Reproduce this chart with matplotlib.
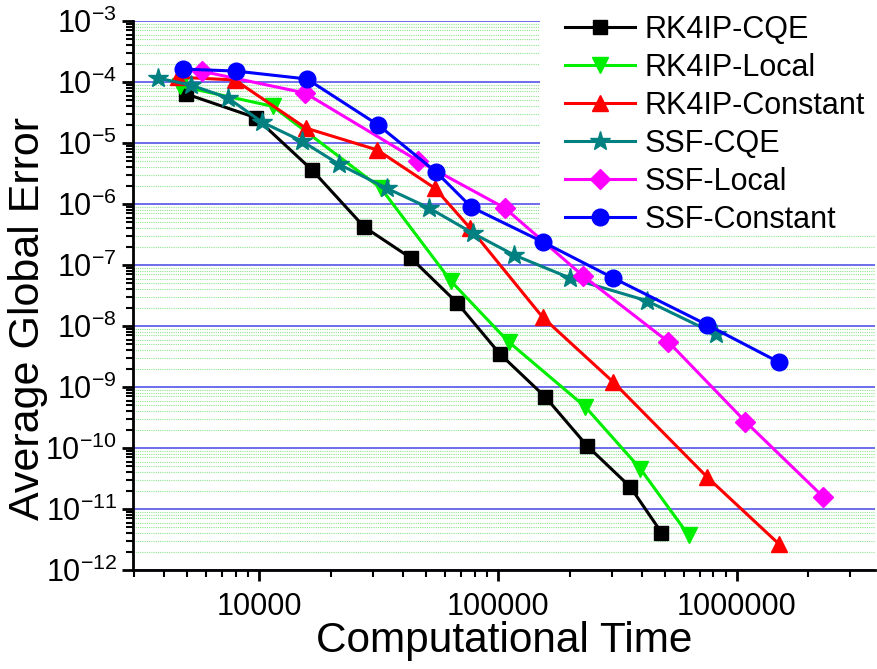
import matplotlib
matplotlib.use("Agg")
import matplotlib.pyplot as plt
from matplotlib.patches import Rectangle
from matplotlib.ticker import LogLocator, FixedLocator, NullFormatter, FixedFormatter

plt.rcParams['font.family'] = ['Liberation Sans', 'DejaVu Sans']
plt.rcParams['mathtext.fontset'] = 'custom'
plt.rcParams['mathtext.rm'] = 'Liberation Sans'
plt.rcParams['mathtext.default'] = 'regular'

# data
labels = ["RK4IP-CQE", "RK4IP-Local", "RK4IP-Constant", "SSF-CQE", "SSF-Local", "SSF-Constant"]

rk4ip_cqe_t = [4940, 9700, 16700, 27600, 43300, 67600, 102000, 158000, 237000, 359000, 485000]
rk4ip_cqe_err = [6.4e-5, 2.6e-5, 3.6e-6, 4.2e-7, 1.3e-7, 2.4e-8, 3.5e-9, 6.9e-10, 1.08e-10, 2.3e-11, 4.1e-12]

rk4ip_local_t = [4660, 11400, 32500, 63800, 111000, 233000, 395000, 630000]
rk4ip_local_err = [8.6e-5, 4.0e-5, 1.8e-6, 5.4e-8, 5.5e-9, 4.7e-10, 4.6e-11, 3.7e-12]

rk4ip_const_t = [4570, 7930, 15700, 31300, 54700, 76700, 154000, 305000, 755000, 1500000]
rk4ip_const_err = [1.2e-4, 1.08e-4, 1.76e-5, 7.7e-6, 1.8e-6, 4.0e-7, 1.4e-8, 1.2e-9, 3.3e-11, 2.7e-12]

ssf_cqe_t = [3780, 5190, 7410, 10300, 15100, 21600, 34400, 51600, 78900, 117000, 201000, 420000, 817000]
ssf_cqe_err = [1.16e-4, 8.9e-5, 5.5e-5, 2.2e-5, 1.08e-5, 4.5e-6, 1.8e-6, 8.6e-7, 3.3e-7, 1.46e-7, 6.1e-8, 2.6e-8, 7.4e-9]

ssf_local_t = [5770, 15600, 46400, 107000, 228000, 518000, 1090000, 2300000]
ssf_local_err = [1.5e-4, 6.6e-5, 5.1e-6, 8.6e-7, 6.6e-8, 5.5e-9, 2.7e-10, 1.6e-11]

ssf_const_t = [4800, 8010, 15900, 31600, 55200, 77500, 154000, 305000, 755000, 1500000]
ssf_const_err = [1.63e-4, 1.51e-4, 1.12e-4, 1.97e-5, 3.35e-6, 8.9e-7, 2.4e-7, 6.1e-8, 1.04e-8, 2.57e-9]

xticks = [10000, 100000, 1000000]
xticklabels = ["10000", "100000", "1000000"]

series = [
    (rk4ip_cqe_t, rk4ip_cqe_err, "black", "s", 10),
    (rk4ip_local_t, rk4ip_local_err, "#00ee00", "v", 12),
    (rk4ip_const_t, rk4ip_const_err, "red", "^", 12),
    (ssf_cqe_t, ssf_cqe_err, "#008080", "*", 15),
    (ssf_local_t, ssf_local_err, "#ff00ff", "D", 10),
    (ssf_const_t, ssf_const_err, "blue", "o", 12),
]

fig = plt.figure(figsize=(8.77, 6.69), dpi=100)
ax = fig.add_axes([133 / 877, 99 / 669, 742 / 877, 549 / 669])

for (t, e, c, m, ms), lab in zip(series, labels):
    ax.plot(t, e, color=c, marker=m, markersize=ms, linewidth=2.2, label=lab, zorder=3)

ax.set_xscale("log")
ax.set_yscale("log")
ax.set_xlim(2970, 3.8e6)
ax.set_ylim(1e-12, 1e-3)

ax.xaxis.set_major_locator(FixedLocator(xticks))
ax.xaxis.set_major_formatter(FixedFormatter(xticklabels))
ax.xaxis.set_minor_locator(LogLocator(base=10, subs=range(2, 10), numticks=20))
ax.xaxis.set_minor_formatter(NullFormatter())
ax.yaxis.set_major_locator(LogLocator(base=10, numticks=20))
ax.yaxis.set_minor_locator(LogLocator(base=10, subs=range(2, 10), numticks=20))
ax.yaxis.set_minor_formatter(NullFormatter())

ax.spines["top"].set_visible(False)
ax.spines["right"].set_visible(False)
ax.spines["left"].set_linewidth(2)
ax.spines["bottom"].set_linewidth(2)
ax.tick_params(which="major", direction="out", length=8, width=2, labelsize=22)
ax.tick_params(axis="x", which="major", pad=8)
ax.tick_params(which="minor", direction="out", length=5, width=1.5)

ax.set_axisbelow(True)
ax.grid(axis="y", which="major", color="#4545e6", linewidth=1.1)
ax.grid(axis="y", which="minor", color="#8ee68e", linestyle=(0, (1, 1)), linewidth=0.8)

ax.set_xlabel("Computational Time", fontsize=30.5)
ax.set_ylabel("Average Global Error", fontsize=31)
ax.xaxis.set_label_coords(0.5, -0.129)
ax.xaxis.label.set_va("center")
ax.yaxis.set_label_coords(-0.142, 0.459)
ax.yaxis.label.set_va("center")

# white area behind the legend hides the grid there
ax.add_patch(Rectangle((540 / 877, (669 - 232) / 669), 1 - 540 / 877, 232 / 669,
                       transform=fig.transFigure, facecolor="white", edgecolor="none",
                       zorder=1, clip_on=False))

leg = ax.legend(loc="upper left", bbox_to_anchor=(565 / 877, (669 - 15) / 669),
                bbox_transform=fig.transFigure, fontsize=22, frameon=False,
                borderpad=0, labelspacing=0.26, handlelength=2.3, handletextpad=0.3,
                borderaxespad=0)

fig.savefig("out.png", dpi=100)
